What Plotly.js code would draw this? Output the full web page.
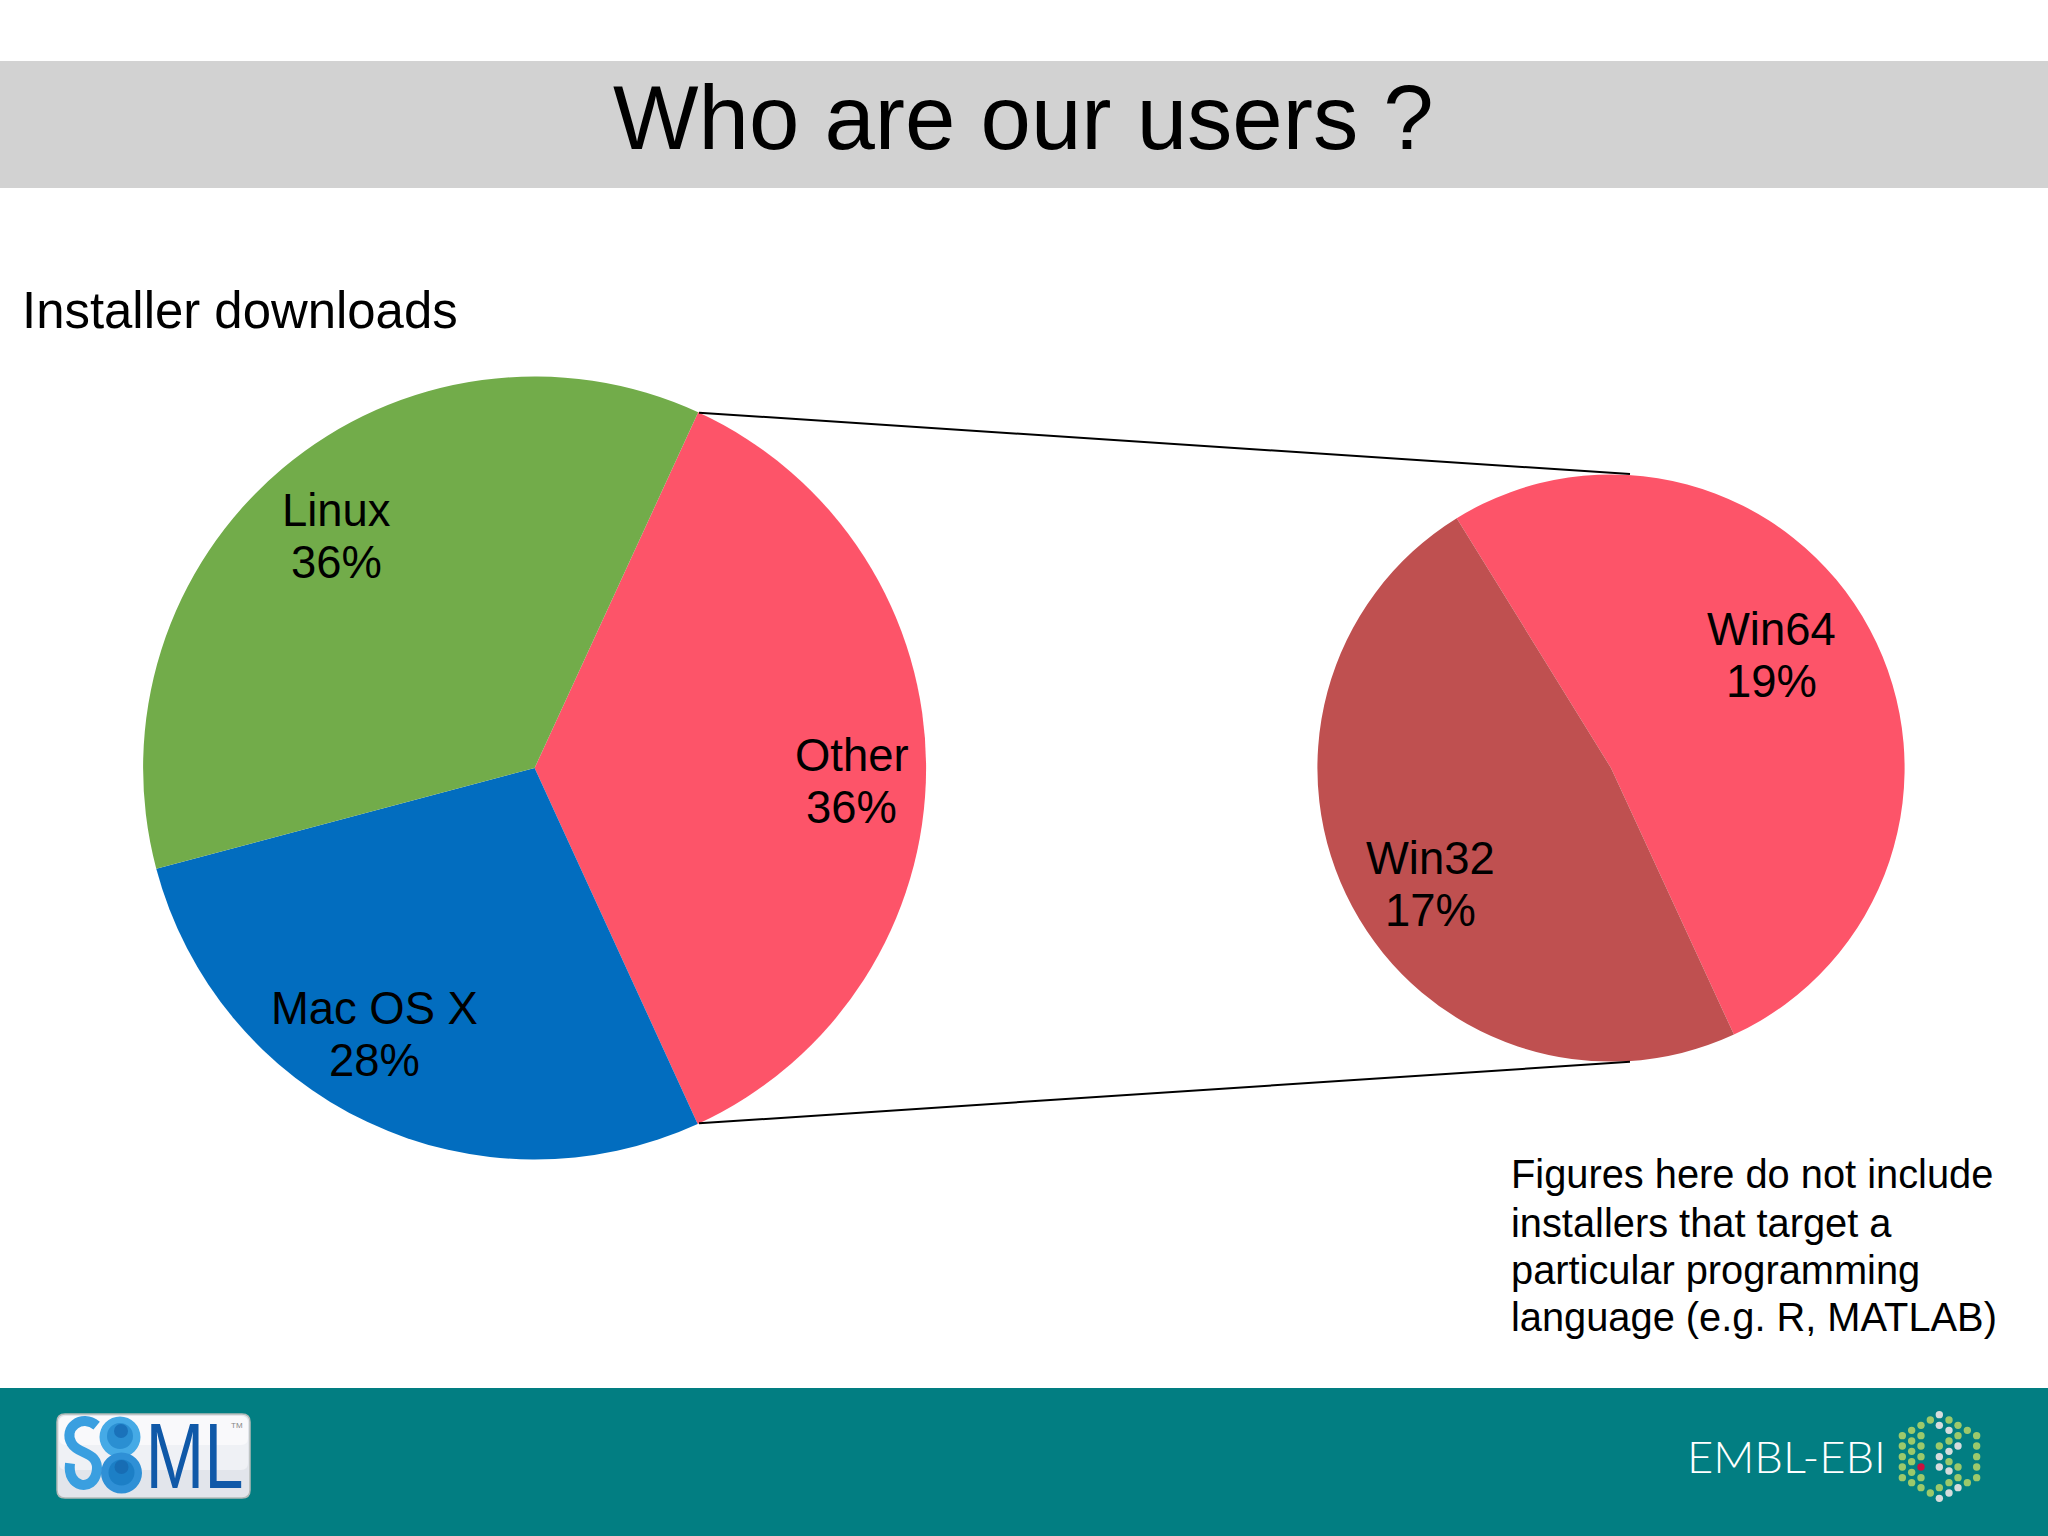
<!DOCTYPE html>
<html>
<head>
<meta charset="utf-8">
<script src="https://cdn.plot.ly/plotly-3.0.1.min.js"></script>
<style>html,body{margin:0;padding:0;background:#fff}#chart{width:2048px;height:1536px}</style>
</head>
<body>
<div id="chart"></div>
<script>
// ---- chart data ----
const mainLabels = ['Other', 'Mac OS X', 'Linux'];
const mainValues = [36.3, 27.7, 36.0];
const mainColors = ['#fd5469', '#026dbf', '#72ac4a'];
const detailLabels = ['Win64', 'Win32'];
const detailValues = [18.85, 17.45];
const detailColors = ['#fd5469', '#bf5050'];
const titleText = 'Who are our users ?';
const subtitleText = 'Installer downloads';
const noteLines = ['Figures here do not include', 'installers that target a', 'particular programming', 'language (e.g. R, MATLAB)'];

// ---- layout helpers (page pixels to paper fractions) ----
const W = 2048, H = 1536, S = 2048 / 1568, FONT = '"Liberation Sans", Arial, sans-serif';
const fx = x => x / W, fy = y => 1 - y / H;
const pt = (x, y) => fx(x) + ',' + fy(y);
function domainFor(cx, cy, r) {
  return { x: [fx(cx - r), fx(cx + r)], y: [fy(cy + r), fy(cy - r)] };
}
function text(t, x, y, size, opts) {
  return Object.assign({
    text: t, xref: 'paper', yref: 'paper', x: fx(x), y: fy(y), showarrow: false,
    xanchor: 'center', yanchor: 'middle', font: { family: FONT, size: size, color: '#000' }
  }, opts || {});
}
function rect(x0, y0, x1, y1, fill, layer) {
  return { type: 'rect', xref: 'paper', yref: 'paper', x0: fx(x0), x1: fx(x1), y0: fy(y1), y1: fy(y0),
           fillcolor: fill, line: { width: 0 }, layer: layer || 'below' };
}
function circle(cx, cy, r, fill) {
  return { type: 'circle', xref: 'paper', yref: 'paper', x0: fx(cx - r), x1: fx(cx + r), y0: fy(cy + r), y1: fy(cy - r),
           fillcolor: fill, line: { width: 0 }, layer: 'above' };
}
function path(d, fill, lineColor, lineWidth) {
  return { type: 'path', xref: 'paper', yref: 'paper', path: d, fillcolor: fill,
           line: { color: lineColor, width: lineWidth }, layer: 'above' };
}
function roundRect(x0, y0, x1, y1, r) {
  return 'M' + pt(x0 + r, y0) + ' L' + pt(x1 - r, y0) + ' Q' + pt(x1, y0) + ' ' + pt(x1, y0 + r) +
         ' L' + pt(x1, y1 - r) + ' Q' + pt(x1, y1) + ' ' + pt(x1 - r, y1) +
         ' L' + pt(x0 + r, y1) + ' Q' + pt(x0, y1) + ' ' + pt(x0, y1 - r) +
         ' L' + pt(x0, y0 + r) + ' Q' + pt(x0, y0) + ' ' + pt(x0 + r, y0) + ' Z';
}

// ---- traces ----
const mainPie = {
  type: 'pie', labels: mainLabels, values: mainValues, sort: false, direction: 'clockwise', rotation: 24.7,
  marker: { colors: mainColors, line: { width: 0 } }, textinfo: 'none', hoverinfo: 'label+percent',
  domain: domainFor(534.6, 768, 391.5), showlegend: false
};
const detailPie = {
  type: 'pie', labels: detailLabels, values: detailValues, sort: false, direction: 'clockwise', rotation: 328.3,
  marker: { colors: detailColors, line: { width: 0 } }, textinfo: 'none', hoverinfo: 'label+percent',
  domain: domainFor(1611, 768, 293.6), showlegend: false
};

// ---- shapes ----
const shapes = [
  rect(0, 61, W, 188, '#d2d2d2'),
  rect(0, 1388, W, H, '#027e82'),
  { type: 'line', xref: 'paper', yref: 'paper', x0: fx(699), y0: fy(412.7), x1: fx(1630), y1: fy(474), line: { color: '#000', width: 2 }, layer: 'above' },
  { type: 'line', xref: 'paper', yref: 'paper', x0: fx(699), y0: fy(1123.3), x1: fx(1630), y1: fy(1061.8), line: { color: '#000', width: 2 }, layer: 'above' }
];

// SBML logo
const zs = (zx, zy) => pt(50 + zx / 3, 1405 + zy / 3);
shapes.push(path(roundRect(57, 1414, 250, 1498, 8), '#e2e5eb', '#b4bab8', 1.5));
shapes.push(path(roundRect(59, 1416, 248, 1470, 7), '#eff1f5', 'rgba(0,0,0,0)', 0));
shapes.push(path(roundRect(59, 1416, 248, 1445, 7), '#f9f9fb', 'rgba(0,0,0,0)', 0));
shapes.push(path('M' + zs(140, 62) + ' C' + zs(95, 25) + ' ' + zs(38, 70) + ' ' + zs(65, 115) +
                 ' C' + zs(85, 150) + ' ' + zs(150, 140) + ' ' + zs(140, 200) +
                 ' C' + zs(130, 262) + ' ' + zs(50, 250) + ' ' + zs(60, 175),
                 'rgba(0,0,0,0)', '#3a9fe0', 10));
shapes.push(circle(120, 1437, 20.5, '#45aae6'));
shapes.push(circle(121.5, 1473, 20.5, '#2f90d6'));
shapes.push(circle(120, 1436, 13, '#2a8fd2'));
shapes.push(circle(121.5, 1472.5, 13, '#1c7fc6'));
shapes.push(circle(121, 1431, 7, '#1a72ba'));
shapes.push(circle(121.5, 1467, 7, '#176db4'));

// EMBL-EBI hexagon of dots
const GREEN = '#9cc96b', GREY = '#d6dcdc', RED = '#c8103f';
const logoDots = [
  [37, [92,123,155,186,218], []],
  [65, [76,108,139,170,202,233], []],
  [93, [61,92,123,155,218,248], []],
  [121, [45,264], []],
  [148, [123,248], [29,61,155,186,280]],
  [177, [45,108,170,233], [76,139,198,264]],
  [204, [61,92,186,218], [123,248]],
  [232, [76,233], []],
  [260, [92,123,155,186,218], []]
];
const zd = (z, o) => o + z / 3;
logoDots.forEach(([zx, greens, greys]) => {
  greens.forEach(zy => shapes.push(circle(zd(zx, 1890), zd(zy, 1405), 3.7, GREEN)));
  greys.forEach(zy => shapes.push(circle(zd(zx, 1890), zd(zy, 1405), 3.7, GREY)));
});
shapes.push(circle(zd(93, 1890), zd(186, 1405), 3.7, RED));

// ---- text ----
const sliceLabel = (name, value, x, y1, y2) => [
  text(name, x * S, y1 * S, 45.4),
  text(Math.round(value) + '%', x * S, y2 * S, 45.4)
];
const annotations = [
  text(titleText, 783.5 * S, 90 * S, 90.6),
  text(subtitleText, 15 * S, 238 * S, 50.9, { xanchor: 'left' }),
  ...sliceLabel(mainLabels[2], mainValues[2], 257.5, 391, 431),
  ...sliceLabel(mainLabels[1], mainValues[1], 287, 772, 812),
  ...sliceLabel(mainLabels[0], mainValues[0], 652, 578.5, 618),
  ...sliceLabel(detailLabels[0], detailValues[0], 1356.5, 482, 522),
  ...sliceLabel(detailLabels[1], detailValues[1], 1095, 657, 697),
  ...noteLines.map((l, i) => text(l, 1155.7 * S, [899, 936, 972, 1008][i] * S, 39.8, { xanchor: 'left' })),
  text('ML', 194.5, 1456, 93, { font: { family: FONT, size: 93, color: '#1059a8' } }),
  text('TM', 237, 1425, 8, { font: { family: FONT, size: 8, color: '#888' } }),
  text('EMBL-EBI', 1786.5, 1456, 43, { font: { family: 'Lato, ' + FONT, size: 43, weight: 300, color: '#fff' } })
];

Plotly.newPlot('chart', [mainPie, detailPie], {
  width: W, height: H, margin: { l: 0, r: 0, t: 0, b: 0 }, paper_bgcolor: '#fff', plot_bgcolor: '#fff',
  showlegend: false, shapes: shapes, annotations: annotations
}, { displayModeBar: false, staticPlot: true }).then(() => {
  // The logo wordmarks are condensed in the reference: fit them to their width, keeping real text.
  const widths = { 'ML': 98, 'EMBL-EBI': 199 };
  document.querySelectorAll('.annotation-text').forEach(el => {
    const w = widths[el.textContent];
    if (w) { el.setAttribute('textLength', w); el.setAttribute('lengthAdjust', 'spacingAndGlyphs'); }
  });
});
</script>
</body>
</html>
